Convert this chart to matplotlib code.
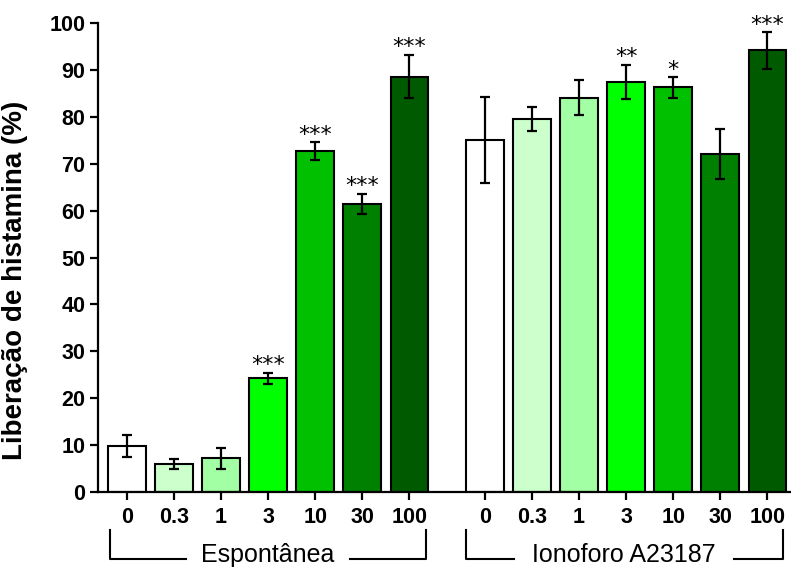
import numpy as np
import matplotlib.pyplot as plt
from matplotlib.transforms import blended_transform_factory

plt.rcParams['font.family'] = ['Liberation Sans', 'DejaVu Sans']

doses = ["0", "0.3", "1", "3", "10", "30", "100"]
groups = ["Espontânea", "Ionoforo A23187"]
colors = ["#ffffff", "#ccffcc", "#a3ffa3", "#00ff00", "#00c000", "#008000", "#005a00"]

# spontaneous release
esp_mean = [9.8, 5.9, 7.1, 24.2, 72.7, 61.4, 88.6]
esp_err = [2.3, 1.1, 2.3, 1.2, 1.9, 2.2, 4.6]
esp_stars = ["", "", "", "***", "***", "***", "***"]
# ionophore A23187
ion_mean = [75.1, 79.6, 84.1, 87.5, 86.3, 72.1, 94.2]
ion_err = [9.1, 2.6, 3.7, 3.6, 2.2, 5.4, 3.9]
ion_stars = ["", "", "", "**", "*", "", "***"]

fig = plt.figure(figsize=(7.91, 5.68), dpi=100)
ax = fig.add_axes([98/791, 1-491.7/568, 1-98/791, 468.4/568])

x1 = np.arange(7)
x2 = np.arange(7) + 7.6
for x, m, e, s in [(x1, esp_mean, esp_err, esp_stars), (x2, ion_mean, ion_err, ion_stars)]:
    ax.bar(x, m, width=0.8, color=colors, edgecolor="black", linewidth=1.5, zorder=2)
    ax.errorbar(x, m, yerr=e, fmt="none", ecolor="black", elinewidth=1.6,
                capsize=3.8, capthick=1.6, zorder=3)
    for xi, mi, ei, si in zip(x, m, e, s):
        if si:
            ax.text(xi, mi + ei - 0.5, si, ha="center", va="bottom", fontsize=16,
                    family="DejaVu Sans")

ax.set_xlim(-0.61, 14.1)
ax.set_ylim(0, 100)
ax.set_yticks(np.arange(0, 101, 10))
ax.set_xticks(np.concatenate([x1, x2]))
ax.set_xticklabels(doses + doses)
for sp in ["top", "right"]:
    ax.spines[sp].set_visible(False)
for sp in ["left", "bottom"]:
    ax.spines[sp].set_linewidth(1.6)
ax.tick_params(direction="out", length=6, width=1.6, labelsize=15.5, pad=3)
ax.tick_params(axis="x", pad=5)
for lab in ax.get_xticklabels() + ax.get_yticklabels():
    lab.set_fontweight("bold")
ax.set_ylabel("Liberação de histamina (%)", fontsize=20, fontweight="bold")
ax.yaxis.set_label_coords(-0.101, 0.452)

# group brackets under the dose labels
tr = blended_transform_factory(ax.transData, ax.transAxes)
y_top = (491.7 - 530) / 468.4
y_bot = (491.7 - 559) / 468.4
y_txt = (491.7 - 555) / 468.4
for (a, b), name, half in zip([(-0.35, 6.35), (7.2, 13.92)], groups, [1.74, 2.34]):
    mid = (a + b) / 2
    ax.plot([a, a, mid - half], [y_top, y_bot, y_bot], color="black", lw=1.5,
            transform=tr, clip_on=False)
    ax.plot([mid + half, b, b], [y_bot, y_bot, y_top], color="black", lw=1.5,
            transform=tr, clip_on=False)
    ax.text(mid, y_txt, name, ha="center", va="center", fontsize=18, transform=tr)

fig.savefig("out.png", dpi=100)
